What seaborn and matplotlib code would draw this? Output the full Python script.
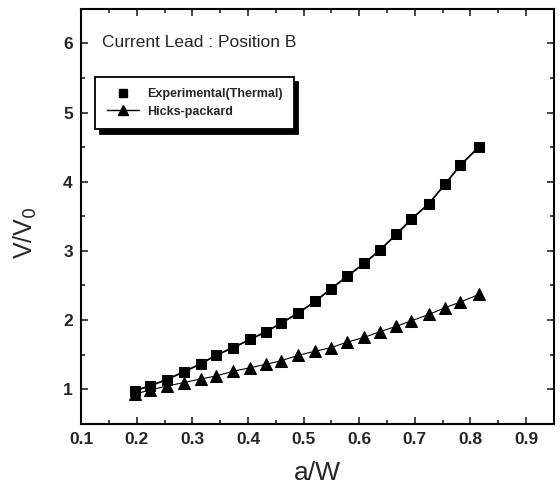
import matplotlib
matplotlib.use("Agg")
import matplotlib.pyplot as plt
from matplotlib.lines import Line2D
from matplotlib.ticker import MultipleLocator
import pandas as pd
import seaborn as sns

# a/W positions (shared by both series)
a_w = [0.197, 0.224, 0.254, 0.284, 0.316, 0.342, 0.373, 0.404, 0.432, 0.459, 0.490,
       0.521, 0.549, 0.578, 0.609, 0.637, 0.667, 0.694, 0.725, 0.755, 0.782, 0.815]
experimental = [0.98, 1.05, 1.14, 1.25, 1.37, 1.49, 1.60, 1.72, 1.83, 1.95, 2.10,
                2.27, 2.45, 2.63, 2.82, 3.01, 3.24, 3.46, 3.68, 3.97, 4.24, 4.50]
hicks_packard = [0.93, 0.99, 1.045, 1.095, 1.15, 1.19, 1.26, 1.31, 1.36, 1.41, 1.49,
                 1.55, 1.60, 1.68, 1.75, 1.83, 1.91, 1.99, 2.08, 2.18, 2.26, 2.37]
labels = ["Experimental(Thermal)", "Hicks-packard"]

df = pd.DataFrame({"aw": a_w, "exp": experimental, "hp": hicks_packard})

sns.set_style("ticks")
plt.rcParams["font.family"] = ["Liberation Sans", "DejaVu Sans"]

fig = plt.figure(figsize=(5.6, 4.86), dpi=100)
ax = fig.add_axes([0.145, 0.128, 0.844, 0.854])

sns.lineplot(data=df, x="aw", y="exp", ax=ax, color="black", lw=1.3,
             marker="s", markersize=7, markeredgecolor="black")
sns.lineplot(data=df, x="aw", y="hp", ax=ax, color="black", lw=0.8,
             marker="^", markersize=8, markeredgecolor="black")

ax.set_xlim(0.1, 0.95)
ax.set_ylim(0.5, 6.5)
ax.xaxis.set_major_locator(MultipleLocator(0.1))
ax.xaxis.set_minor_locator(MultipleLocator(0.05))
ax.yaxis.set_major_locator(MultipleLocator(1))
ax.yaxis.set_minor_locator(MultipleLocator(0.5))
ax.tick_params(which="both", direction="in", top=True, right=True, width=1.2)
ax.tick_params(which="major", length=5, labelsize=12.5, pad=6)
ax.tick_params(which="minor", length=3)
for lab in ax.get_xticklabels() + ax.get_yticklabels():
    lab.set_fontweight("bold")
for sp in ax.spines.values():
    sp.set_linewidth(1.5)
    sp.set_color("black")

ax.set_xlabel("a/W", fontsize=19, va="center")
ax.set_ylabel("V/V$_0$", fontsize=18, va="center")
ax.xaxis.set_label_coords(0.5, -0.118)
ax.yaxis.set_label_coords(-0.118, 0.46)

ax.text(0.045, 0.918, "Current Lead : Position B", transform=ax.transAxes,
        fontsize=12.5, va="center", ha="left")

handles = [
    Line2D([], [], color="black", marker="s", linestyle="none", markersize=6),
    Line2D([], [], color="black", marker="^", lw=1, markersize=7),
]
leg = ax.legend(handles, labels, loc="upper left", bbox_to_anchor=(0.03, 0.836),
                fancybox=False, edgecolor="black", framealpha=1,
                shadow={"color": "black", "alpha": 1, "ox": 3, "oy": -4},
                prop={"size": 9, "weight": "bold"}, handlelength=2.6,
                handletextpad=0.6, borderpad=0.9, labelspacing=0.45,
                borderaxespad=0)
leg.get_frame().set_linewidth(1.3)

fig.savefig("out.png", dpi=100)
